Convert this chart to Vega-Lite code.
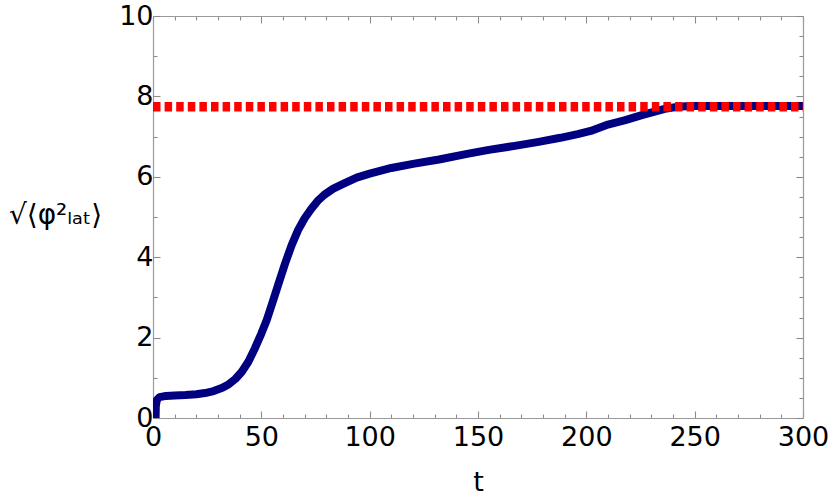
{
  "$schema": "https://vega.github.io/schema/vega-lite/v6.json",
  "width": 650,
  "height": 402,
  "autosize": {"type": "none"},
  "padding": {"left": 153, "top": 16, "right": 27, "bottom": 80},
  "background": "white",
  "config": {
    "view": {"stroke": null},
    "axis": {
      "grid": false,
      "domainColor": "#9a9a9a",
      "domainWidth": 1.2,
      "tickColor": "#8a8a8a",
      "tickWidth": 1.1,
      "labelFont": "DejaVu Sans",
      "labelFontSize": 27,
      "labelColor": "black",
      "labelFlush": false,
      "labelOverlap": false,
      "titleFont": "DejaVu Sans",
      "titleFontSize": 27,
      "titleFontWeight": "normal",
      "titleColor": "black"
    }
  },
  "datasets": {
    "curve": [
      {"t": 1.2, "v": 0.0},
      {"t": 1.3, "v": 0.3},
      {"t": 1.8, "v": 0.45},
      {"t": 3, "v": 0.52},
      {"t": 6, "v": 0.55},
      {"t": 10, "v": 0.56},
      {"t": 15, "v": 0.57},
      {"t": 20, "v": 0.59},
      {"t": 24, "v": 0.62},
      {"t": 28, "v": 0.67},
      {"t": 32, "v": 0.75},
      {"t": 35, "v": 0.84},
      {"t": 38, "v": 0.97},
      {"t": 41, "v": 1.15},
      {"t": 44, "v": 1.4},
      {"t": 47, "v": 1.73},
      {"t": 50, "v": 2.1},
      {"t": 52.5, "v": 2.44},
      {"t": 55, "v": 2.85},
      {"t": 58, "v": 3.35},
      {"t": 61, "v": 3.85},
      {"t": 64, "v": 4.3},
      {"t": 67, "v": 4.68},
      {"t": 70, "v": 4.97},
      {"t": 73, "v": 5.2},
      {"t": 76, "v": 5.4},
      {"t": 79, "v": 5.55},
      {"t": 83, "v": 5.7},
      {"t": 88, "v": 5.83},
      {"t": 94, "v": 5.98},
      {"t": 100, "v": 6.08},
      {"t": 110, "v": 6.22},
      {"t": 120, "v": 6.32},
      {"t": 132, "v": 6.43},
      {"t": 145, "v": 6.57},
      {"t": 155, "v": 6.67},
      {"t": 167, "v": 6.77},
      {"t": 178, "v": 6.87},
      {"t": 188, "v": 6.97},
      {"t": 196, "v": 7.06},
      {"t": 202, "v": 7.14},
      {"t": 206, "v": 7.22},
      {"t": 210, "v": 7.3},
      {"t": 218, "v": 7.41},
      {"t": 226, "v": 7.54},
      {"t": 232, "v": 7.63},
      {"t": 237, "v": 7.7},
      {"t": 242, "v": 7.74},
      {"t": 248, "v": 7.76},
      {"t": 260, "v": 7.76},
      {"t": 280, "v": 7.76},
      {"t": 300, "v": 7.76}
    ],
    "ref": [
      {"t": 0, "v": 7.745},
      {"t": 300, "v": 7.745}
    ]
  },
  "layer": [
    {
      "data": {"name": "curve"},
      "mark": {"type": "line", "color": "#000080", "strokeWidth": 8, "clip": true, "strokeCap": "butt", "strokeJoin": "round"},
      "encoding": {
        "x": {
          "field": "t", "type": "quantitative",
          "scale": {"domain": [0, 300], "nice": false, "zero": false},
          "axis": {
            "orient": "bottom",
            "title": "t",
            "format": "d",
            "values": [0,10,20,30,40,50,60,70,80,90,100,110,120,130,140,150,160,170,180,190,200,210,220,230,240,250,260,270,280,290,300],
            "labelExpr": "datum.value % 50 === 0 ? datum.label : ''",
            "tickSize": {"condition": {"test": "datum.value % 50 === 0", "value": -7}, "value": -4},
            "labelPadding": 13,
            "titlePadding": 16
          }
        },
        "y": {
          "field": "v", "type": "quantitative",
          "scale": {"domain": [0, 10], "nice": false, "zero": false},
          "axis": {
            "orient": "left",
            "title": "√⟨φ²ₗₐₜ⟩",
            "titleAngle": 0,
            "titleAlign": "center",
            "titleBaseline": "middle",
            "titleX": -98,
            "titleY": 199,
            "titleFontSize": 28,
            "format": "d",
            "values": [0,0.5,1,1.5,2,2.5,3,3.5,4,4.5,5,5.5,6,6.5,7,7.5,8,8.5,9,9.5,10],
            "labelExpr": "datum.value % 2 === 0 ? datum.label : ''",
            "tickSize": {"condition": {"test": "datum.value % 2 === 0", "value": -7}, "value": -4},
            "labelPadding": 7
          }
        }
      }
    },
    {
      "data": {"name": "ref"},
      "mark": {"type": "line", "color": "#ff0000", "strokeWidth": 9.5, "strokeDash": [7.5, 4.1], "clip": true, "strokeCap": "butt"},
      "encoding": {
        "x": {
          "field": "t", "type": "quantitative",
          "axis": {
            "orient": "top",
            "title": null,
            "labels": false,
            "values": [0,10,20,30,40,50,60,70,80,90,100,110,120,130,140,150,160,170,180,190,200,210,220,230,240,250,260,270,280,290,300],
            "tickSize": {"condition": {"test": "datum.value % 50 === 0", "value": -7}, "value": -4}
          }
        },
        "y": {
          "field": "v", "type": "quantitative",
          "axis": {
            "orient": "right",
            "title": null,
            "labels": false,
            "values": [0,0.5,1,1.5,2,2.5,3,3.5,4,4.5,5,5.5,6,6.5,7,7.5,8,8.5,9,9.5,10],
            "tickSize": {"condition": {"test": "datum.value % 2 === 0", "value": -7}, "value": -4}
          }
        }
      }
    }
  ],
  "resolve": {"axis": {"x": "independent", "y": "independent"}}
}
